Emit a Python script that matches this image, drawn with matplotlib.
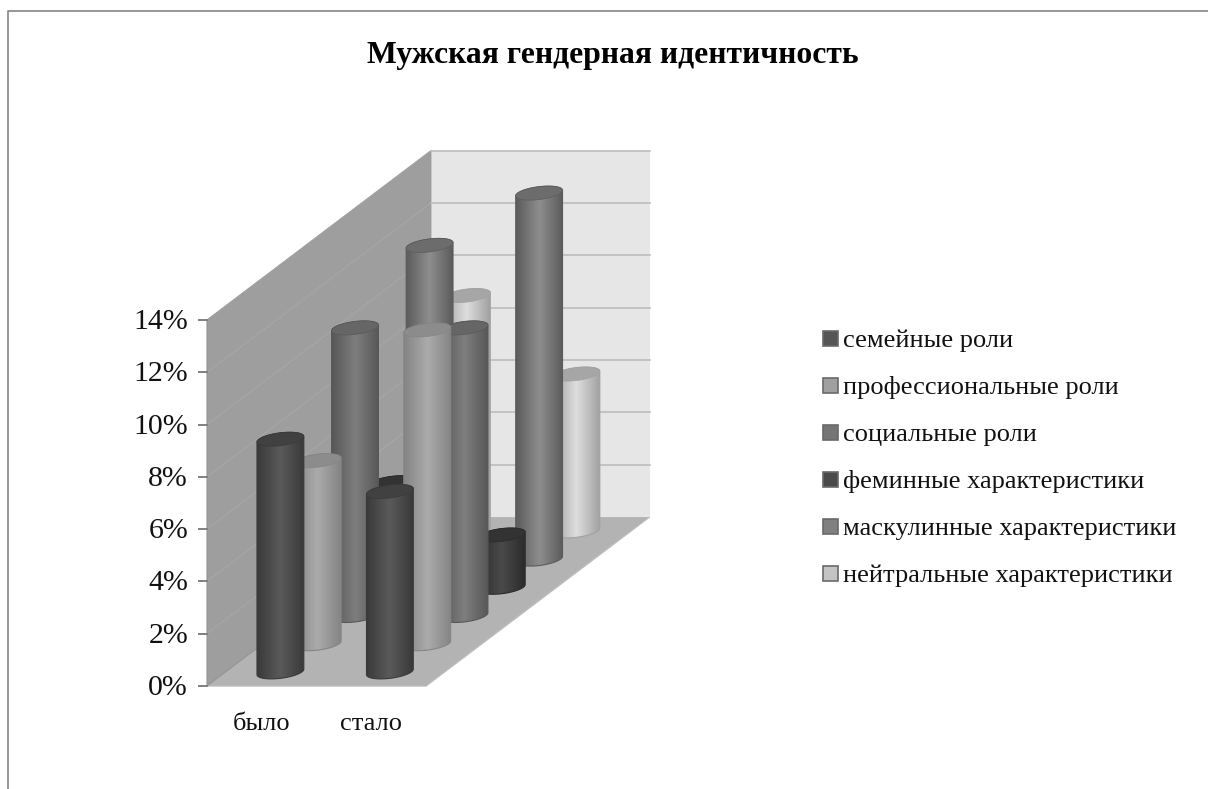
#!/usr/bin/env python3

import numpy as np
import matplotlib
matplotlib.use("Agg")
import matplotlib.pyplot as plt
from matplotlib.colors import LinearSegmentedColormap
from matplotlib.patches import Polygon, Rectangle

plt.rcParams["font.family"] = ["Liberation Serif", "DejaVu Serif"]

TITLE = "Мужская гендерная идентичность"
CATEGORIES = ["было", "стало"]
SERIES = [
    "семейные роли",
    "профессиональные роли",
    "социальные роли",
    "феминные характеристики",
    "маскулинные характеристики",
    "нейтральные характеристики",
]
VALUES_BYLO = [8.9, 7, 11, 4, 12, 9]
VALUES_STALO = [6.9, 12, 11, 2, 14, 6]
TICKS = [0, 2, 4, 6, 8, 10, 12, 14]

# edge, centre, top of every cylinder
EDGE = ["#3a3a3a", "#858585", "#585858", "#2c2c2c", "#5c5c5c", "#a2a2a2"]
CENTRE = ["#5a5a5a", "#ababab", "#7e7e7e", "#4a4a4a", "#8e8e8e", "#dedede"]
TOP = ["#414141", "#8c8c8c", "#666666", "#333333", "#6c6c6c", "#a6a6a6"]
SWATCH = ["#555555", "#a0a0a0", "#757575", "#4a4a4a", "#808080", "#c4c4c4"]

# oblique projection, in pixels
X0, Y0 = 207, 686
CAT_W = 109.5
DEPTH_X, DEPTH_Y = 37.3, -28.2
PX_PER_PCT = 26.14
RAD_A, RAD_U, RAD_V = 21.5, 9.3, 7.0


def proj(cat, depth, value):
    return X0 + cat * CAT_W + depth * DEPTH_X, Y0 + depth * DEPTH_Y - value * PX_PER_PCT


def cylinder(ax, cat, depth, value, idx, z):
    cx, base = proj(cat, depth, 0)
    top = base - value * PX_PER_PCT
    t0 = np.arctan2(RAD_U, RAD_A)
    ex = lambda t: cx + RAD_A * np.cos(t) + RAD_U * np.sin(t)
    ey = lambda t: -RAD_V * np.sin(t)

    front = np.linspace(t0 + np.pi, t0 + 2 * np.pi, 60)
    back = np.linspace(t0, t0 + np.pi, 60)
    body = np.vstack([
        np.column_stack([ex(front), base + ey(front)]),
        np.column_stack([ex(back), top + ey(back)]),
    ])
    outline = Polygon(body, closed=True, fc="none", ec=EDGE[idx], lw=0.8, zorder=z + 0.2)
    ax.add_patch(outline)

    half = np.hypot(RAD_A, RAD_U)
    cmap = LinearSegmentedColormap.from_list("c", [EDGE[idx], CENTRE[idx], EDGE[idx]])
    im = ax.imshow(np.linspace(0, 1, 80)[None, :], cmap=cmap, aspect="auto",
                   extent=(cx - half, cx + half, base + RAD_V, top - RAD_V), zorder=z + 0.1)
    im.set_clip_path(Polygon(body, closed=True, transform=ax.transData))

    all_t = np.linspace(0, 2 * np.pi, 120)
    cap = np.column_stack([ex(all_t), top + ey(all_t)])
    ax.add_patch(Polygon(cap, closed=True, fc=TOP[idx], ec=EDGE[idx], lw=0.5, zorder=z + 0.3))


fig = plt.figure(figsize=(12.08, 7.89), dpi=100)
ax = fig.add_axes([0, 0, 1, 1])
ax.set_xlim(0, 1208)
ax.set_ylim(789, 0)
ax.axis("off")

# page frame
ax.plot([7.5, 7.5, 1208], [789, 10.5, 10.5], color="#858585", lw=1.2, zorder=1)

n_cat = len(CATEGORIES)
n_ser = len(SERIES)
vmax = TICKS[-1]

# walls and floor
floor = [proj(0, 0, 0), proj(n_cat, 0, 0), proj(n_cat, n_ser, 0), proj(0, n_ser, 0)]
ax.add_patch(Polygon(floor, closed=True, fc="#b3b3b3", ec="#bcbcbc", lw=1, zorder=2))
back = [proj(0, n_ser, 0), proj(n_cat, n_ser, 0), proj(n_cat, n_ser, vmax), proj(0, n_ser, vmax)]
ax.add_patch(Polygon(back, closed=True, fc="#e6e6e6", ec="none", zorder=2))
side = [proj(0, 0, 0), proj(0, n_ser, 0), proj(0, n_ser, vmax), proj(0, 0, vmax)]
ax.add_patch(Polygon(side, closed=True, fc="#9e9e9e", ec="#949494", lw=0.8, zorder=2))

for tick in TICKS:
    a, b, c = proj(0, 0, tick), proj(0, n_ser, tick), proj(n_cat, n_ser, tick)
    if tick > 0:
        ax.plot([a[0], b[0]], [a[1], b[1]], color="#a8a8a8", lw=0.7, zorder=3)
        ax.plot([b[0], c[0]], [b[1], c[1]], color="#bdbdbd", lw=1.2, zorder=3)
    ax.plot([a[0] - 8, a[0]], [a[1], a[1]], color="#808080", lw=1.4, zorder=3)
    ax.text(a[0] - 19, a[1] + 2, f"{tick}%", ha="right", va="center", fontsize=21.5, color="#111111")

for i, cat in enumerate(CATEGORIES):
    x, y = proj(i + 0.5, 0, 0)
    ax.text(x, y + 38, cat, ha="center", va="center", fontsize=19, color="#111111")

# back row first so the front bars overlap it
for s in range(n_ser - 1, -1, -1):
    z = 10 + (n_ser - s) * 2
    for c, vals in enumerate([VALUES_BYLO, VALUES_STALO]):
        cylinder(ax, c + 0.5, s + 0.5, vals[s], s, z)

ax.set_xlim(0, 1208)
ax.set_ylim(789, 0)

# legend
for i, name in enumerate(SERIES):
    y = 338 + i * 47
    ax.add_patch(Rectangle((822.5, y - 7.5), 15, 15, fc=SWATCH[i], ec="#6a6a6a", lw=1.2, zorder=5))
    ax.text(843, y + 2.5, name, ha="left", va="center", fontsize=19, color="#111111")

ax.text(613, 55, TITLE, ha="center", va="center", fontsize=22.8, fontweight="bold", color="black")

fig.savefig("out.png", dpi=100)
